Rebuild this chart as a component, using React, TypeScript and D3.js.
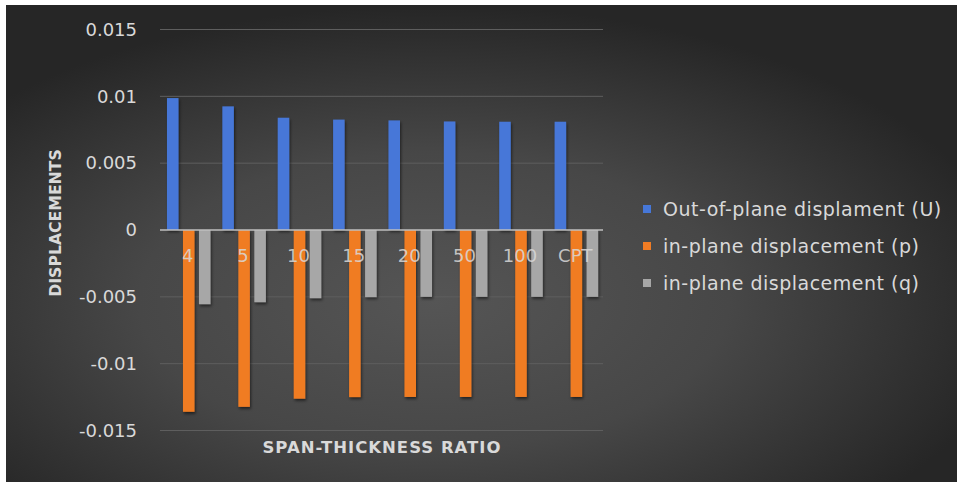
import React from "react";
import * as d3 from "d3";

const categories = ["4", "5", "10", "15", "20", "50", "100", "CPT"];
const seriesNames = [
  "Out-of-plane displament (U)",
  "in-plane displacement (p)",
  "in-plane displacement (q)",
];
const outOfPlaneU = [0.00987, 0.00925, 0.0084, 0.00826, 0.0082, 0.00812, 0.0081, 0.0081];
const inPlaneP = [-0.0136, -0.01323, -0.01262, -0.0125, -0.01249, -0.01249, -0.01249, -0.01249];
const inPlaneQ = [-0.00555, -0.0054, -0.0051, -0.00502, -0.005, -0.005, -0.005, -0.005];
const yTicks = [0.015, 0.01, 0.005, 0, -0.005, -0.01, -0.015];
const yTickLabels = ["0.015", "0.01", "0.005", "0", "-0.005", "-0.01", "-0.015"];
const colors = ["#4677d8", "#f07c24", "#a7a7a7"];

const W = 957;
const H = 482;

export default function App() {
  const seriesValues = [outOfPlaneU, inPlaneP, inPlaneQ];
  const y = d3.scaleLinear().domain([-0.015, 0.015]).range([430.5, 29.5]);
  const x0 = d3.scaleBand<string>().domain(categories).range([160, 603]).paddingInner(0).paddingOuter(0);
  const bw = x0.bandwidth();
  const x1 = d3
    .scaleBand<string>()
    .domain(seriesNames)
    .range([bw * 0.126, bw * 0.912])
    .paddingInner(0.28)
    .paddingOuter(0);
  const font = "'DejaVu Sans', 'Open Sans', sans-serif";
  const legendY = [209, 246, 283];

  return (
    <svg
      width={W}
      height={H}
      style={{ position: "absolute", left: 0, top: 0, display: "block" }}
      fontFamily={font}
    >
      <defs>
        <radialGradient id="bg" cx="0.45" cy="0.62" r="0.62" fx="0.45" fy="0.62">
          <stop offset="0" stopColor="#555555" />
          <stop offset="0.5" stopColor="#474747" />
          <stop offset="1" stopColor="#262626" />
        </radialGradient>
        <filter id="sh" x="-50%" y="-10%" width="200%" height="120%">
          <feDropShadow dx="1" dy="2" stdDeviation="1.5" floodColor="#000" floodOpacity="0.55" />
        </filter>
      </defs>
      <rect x={0} y={0} width={W} height={H} fill="#ffffff" />
      <rect x={6} y={5} width={W - 6} height={H - 5} fill="url(#bg)" />

      {/* gridlines */}
      {yTicks.map((t) =>
        t === 0 ? null : (
          <line key={t} x1={160} x2={603} y1={y(t)} y2={y(t)} stroke="#5e5e5e" strokeWidth={1} />
        )
      )}

      {/* y tick labels */}
      {yTicks.map((t, i) => (
        <text
          key={"yl" + t}
          x={137}
          y={y(t)}
          dy="0.35em"
          textAnchor="end"
          fill="#d9d9d9"
          fontSize={18}
        >
          {yTickLabels[i]}
        </text>
      ))}

      {/* bars */}
      {seriesNames.map((s, si) => (
        <g key={s} filter="url(#sh)">
          {categories.map((c, ci) => {
            const v = seriesValues[si][ci];
            const xx = (x0(c) as number) + (x1(s) as number);
            const y0 = y(0);
            const yv = y(v);
            return (
              <rect
                key={c}
                x={xx}
                y={Math.min(y0, yv)}
                width={x1.bandwidth()}
                height={Math.abs(yv - y0)}
                fill={colors[si]}
              />
            );
          })}
        </g>
      ))}

      {/* zero axis */}
      <line x1={160} x2={603} y1={y(0)} y2={y(0)} stroke="#bfbfbf" strokeWidth={1.5} />

      {/* category labels */}
      {categories.map((c) => (
        <text
          key={"xl" + c}
          x={(x0(c) as number) + bw / 2}
          y={y(0) + 26}
          dy="0.35em"
          textAnchor="middle"
          fill="#d9d9d9"
          fillOpacity={0.85}
          fontSize={18}
        >
          {c}
        </text>
      ))}

      {/* axis titles */}
      <text
        transform={`translate(55, ${223}) rotate(-90)`}
        textAnchor="middle"
        dy="0.35em"
        fill="#d9d9d9"
        fontSize={15.7}
        fontWeight="bold"
      >
        DISPLACEMENTS
      </text>
      <text
        x={382}
        y={447}
        dy="0.35em"
        textAnchor="middle"
        fill="#d9d9d9"
        fontSize={16.5}
        fontWeight="bold"
        letterSpacing={1}
      >
        SPAN-THICKNESS RATIO
      </text>

      {/* legend */}
      {seriesNames.map((s, i) => (
        <g key={"lg" + s}>
          <rect x={643} y={legendY[i] - 4} width={8} height={8} fill={colors[i]} />
          <text x={663} y={legendY[i]} dy="0.35em" fill="#d9d9d9" fontSize={19} letterSpacing={0.5}>
            {s}
          </text>
        </g>
      ))}
    </svg>
  );
}
